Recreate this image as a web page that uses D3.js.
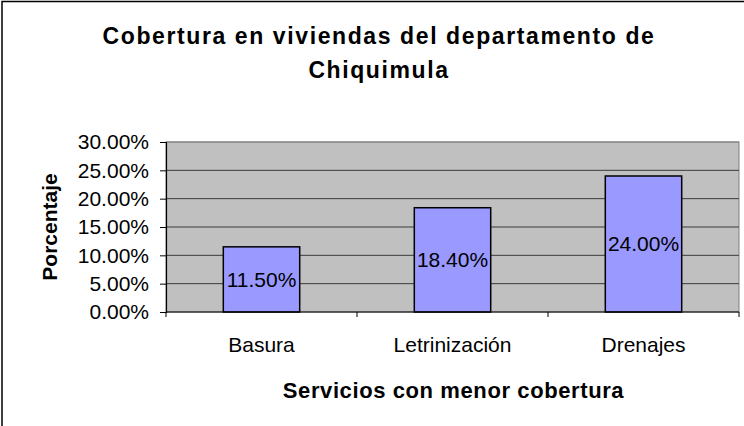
<!DOCTYPE html>
<html>
<head>
<meta charset="utf-8">
<script src="https://cdn.jsdelivr.net/npm/d3@7"></script>
<style>
  body { margin: 0; background: #fff; }
  svg { display: block; font-family: Arial, "Liberation Sans", sans-serif; }
</style>
</head>
<body>
<div id="my_dataviz"></div>
<script>

// datos del grafico
var categorias = ["Basura", "Letrinización", "Drenajes"];
var valores = [0.115, 0.184, 0.24];
var ticksY = [0, 0.05, 0.10, 0.15, 0.20, 0.25, 0.30];
var titulo = ["Cobertura en viviendas del departamento de", "Chiquimula"];
var tituloX = "Servicios con menor cobertura";
var tituloY = "Porcentaje";

var data = [];
categorias.forEach((c, i) => {
  data.push({ 'cat': c, 'value': valores[i] });
});

var W = 744, H = 426;
var margin = { top: 142, right: 5, bottom: 114, left: 166 },
  width = W - margin.left - margin.right,
  height = H - margin.top - margin.bottom;

var svgRoot = d3.select("#my_dataviz")
  .append("svg")
  .attr("width", W)
  .attr("height", H);

// borde del area del grafico (cortado a la derecha y abajo)
svgRoot.append("rect")
  .attr("x", 2)
  .attr("y", 1.5)
  .attr("width", 800)
  .attr("height", 500)
  .attr("fill", "#fff")
  .attr("stroke", "#000")
  .attr("stroke-width", 1.5);

// titulo
svgRoot.append("text")
  .attr("text-anchor", "middle")
  .style("font-size", "23px")
  .style("font-weight", "bold")
  .style("letter-spacing", "1.6px")
  .selectAll("tspan")
  .data(titulo)
  .join("tspan")
  .attr("x", 379)
  .attr("y", (d, i) => 44 + i * 34)
  .text(d => d);

var svg = svgRoot.append("g")
  .attr("transform", "translate(" + margin.left + "," + margin.top + ")");

// escalas
var x = d3.scaleBand()
  .domain(categorias)
  .range([0, width]);

var y = d3.scaleLinear()
  .domain([0, 0.30])
  .range([height, 0]);

// fondo gris
svg.append("rect")
  .attr("width", width)
  .attr("height", height)
  .attr("fill", "#C0C0C0")
  .attr("stroke", "#808080")
  .attr("stroke-width", 1);

// lineas de division
svg.append("g")
  .selectAll("line")
  .data(ticksY.filter(d => d > 0))
  .join("line")
  .attr("x1", 0)
  .attr("x2", width)
  .attr("y1", d => y(d))
  .attr("y2", d => y(d))
  .attr("stroke", d => d == 0.30 ? "#808080" : "#3a3a3a")
  .attr("stroke-width", 1);

// barras
var anchoBarra = x.bandwidth() * 0.4;
svg.append("g")
  .selectAll("rect")
  .data(data)
  .join("rect")
  .attr("x", d => x(d.cat) + (x.bandwidth() - anchoBarra) / 2)
  .attr("y", d => y(d.value))
  .attr("width", anchoBarra)
  .attr("height", d => height - y(d.value))
  .attr("fill", "#9999FF")
  .attr("stroke", "#000")
  .attr("stroke-width", 1.5);

// etiquetas de valor
svg.append("g")
  .selectAll("text")
  .data(data)
  .join("text")
  .attr("x", d => x(d.cat) + x.bandwidth() / 2)
  .attr("y", d => (y(d.value) + height) / 2)
  .attr("dy", "0.35em")
  .attr("text-anchor", "middle")
  .style("font-size", "21px")
  .text(d => d3.format(".2%")(d.value));

// eje Y
var ejeY = svg.append("g")
  .call(d3.axisLeft(y).tickValues(ticksY).tickFormat(d3.format(".2%")).tickSize(6).tickPadding(11));
ejeY.select(".domain").attr("stroke", "#000").attr("stroke-width", 1.2);
ejeY.selectAll("text").style("font-size", "21px").attr("fill", "#000");

// eje X: marcas entre categorias
var ejeX = svg.append("g")
  .attr("transform", "translate(0," + height + ")");
ejeX.append("line")
  .attr("x1", 0)
  .attr("x2", width)
  .attr("stroke", "#000")
  .attr("stroke-width", 1.2);
ejeX.selectAll(".marca")
  .data(categorias.concat(["fin"]))
  .join("line")
  .attr("class", "marca")
  .attr("x1", (d, i) => i * x.step())
  .attr("x2", (d, i) => i * x.step())
  .attr("y1", 0)
  .attr("y2", 5)
  .attr("stroke", "#000");
ejeX.selectAll("text")
  .data(categorias)
  .join("text")
  .attr("x", d => x(d) + x.bandwidth() / 2)
  .attr("y", 40)
  .attr("text-anchor", "middle")
  .style("font-size", "21px")
  .text(d => d);

// titulos de ejes
svgRoot.append("text")
  .attr("x", margin.left + width / 2 + 1)
  .attr("y", 398)
  .attr("text-anchor", "middle")
  .style("font-size", "22px")
  .style("font-weight", "bold")
  .style("letter-spacing", "0.6px")
  .text(tituloX);

svgRoot.append("text")
  .attr("transform", "translate(57," + (margin.top + height / 2) + ") rotate(-90)")
  .attr("text-anchor", "middle")
  .style("font-size", "21px")
  .style("font-weight", "bold")
  .text(tituloY);

</script>
</body>
</html>
